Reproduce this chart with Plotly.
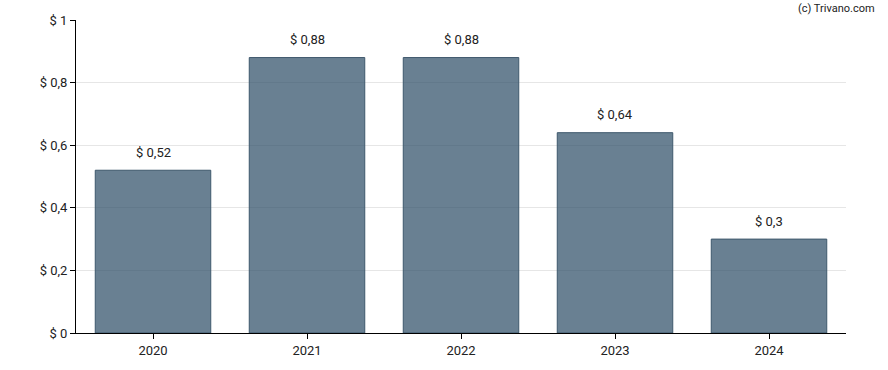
import plotly.graph_objects as go

years = ["2020", "2021", "2022", "2023", "2024"]
values = [0.52, 0.88, 0.88, 0.64, 0.30]
labels = ["$ " + (f"{v:g}").replace(".", ",") for v in values]

fig = go.Figure()
fig.add_trace(go.Bar(
    x=years, y=values,
    marker=dict(color="rgba(47,79,104,0.72)", line=dict(color="rgb(62,88,108)", width=1)),
    hoverinfo="skip",
))
for i, (y, t) in enumerate(zip(values, labels)):
    fig.add_annotation(x=i, y=y, text=t, showarrow=False, yshift=18,
                       font=dict(family="Roboto", size=13, color="#222"))
fig.add_annotation(xref="paper", yref="paper", x=1.04, y=1.0, yshift=12,
                   xanchor="right", yanchor="middle",
                   text="(c) Trivano.com", showarrow=False,
                   font=dict(family="Roboto", size=11, color="#222"))

fig.update_layout(
    width=888, height=370,
    margin=dict(l=76, r=42, t=20, b=35),
    plot_bgcolor="white", paper_bgcolor="white",
    bargap=0.25, showlegend=False,
    separators=",.",
    font=dict(family="Roboto", size=13, color="#222"),
)
fig.update_xaxes(type="category", range=[-0.5, 4.5], showline=True, linecolor="black", linewidth=1,
                 ticks="outside", ticklen=5, tickcolor="black", showgrid=False)
fig.update_yaxes(range=[0, 1], dtick=0.2, tickprefix="$ ", showline=True, linecolor="black",
                 linewidth=1, ticks="outside", ticklen=5, tickcolor="black",
                 showgrid=True, gridcolor="#e6e6e6", zeroline=False)
fig.write_html("out.html", config={"displayModeBar": False},
               post_script="document.body.style.margin='0';")
